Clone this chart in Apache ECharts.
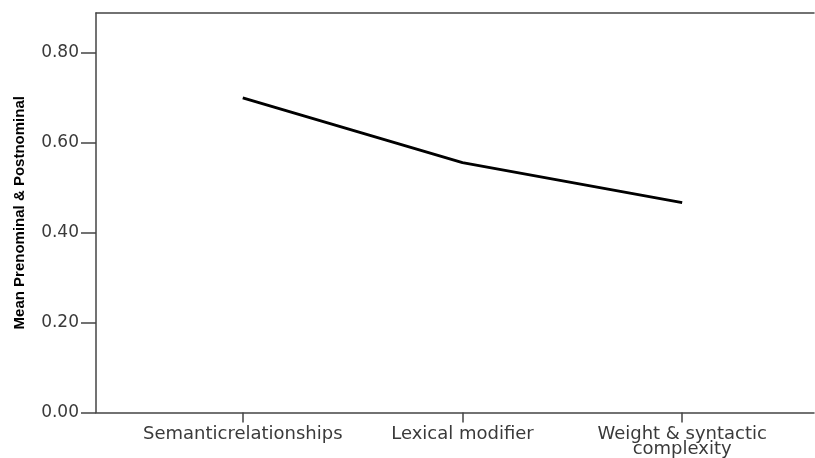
<!DOCTYPE html>
<html>
<head>
<meta charset="utf-8">
<script src="https://cdn.jsdelivr.net/npm/echarts@6/dist/echarts.min.js"></script>
<style>
  html, body { margin: 0; padding: 0; background: #fff; }
  #chart { width: 815px; height: 458px; }
</style>
</head>
<body>
<div id="chart"></div>
<script>
// categories on the x axis and the mean values
var categories = ['Semanticrelationships', 'Lexical modifier', 'Weight & syntactic\ncomplexity']
var meanValues = [0.700, 0.556, 0.467]
var yTicks = [0, 0.2, 0.4, 0.6, 0.8]

var points = meanValues.map(function (v, i) { return [i, v] })

var myChart = echarts.init(document.getElementById('chart'))
var option = {
  backgroundColor: '#fff',
  animation: false,
  grid: {
    left: 96,
    right: 1,
    top: 13,
    bottom: 45
  },
  xAxis: [
    {
      type: 'value',
      min: -0.668,
      max: 2.6,
      splitLine: { show: false },
      axisLine: { show: true, onZero: false, lineStyle: { color: '#444', width: 1.5 } },
      axisTick: {
        show: true,
        length: 10,
        customValues: [0, 1, 2],
        lineStyle: { color: '#444', width: 1.5 }
      },
      axisLabel: {
        customValues: [0, 1, 2],
        formatter: function (v) { return categories[Math.round(v)] },
        color: '#3a3a3a',
        fontFamily: 'DejaVu Sans, sans-serif',
        fontSize: 18,
        lineHeight: 15,
        margin: 14,
        verticalAlign: 'top'
      }
    },
    {
      type: 'value',
      position: 'top',
      min: -0.668,
      max: 2.6,
      splitLine: { show: false },
      axisLine: { show: true, onZero: false, lineStyle: { color: '#444', width: 1.5 } },
      axisTick: { show: false },
      axisLabel: { show: false }
    }
  ],
  yAxis: {
    type: 'value',
    min: 0,
    max: 0.889,
    name: 'Mean Prenominal & Postnominal',
    nameLocation: 'middle',
    nameGap: 69,
    nameTextStyle: {
      fontFamily: 'Liberation Sans Narrow, Arial Narrow, Liberation Sans, sans-serif',
      fontWeight: 'bold',
      fontSize: 15,
      color: '#000'
    },
    splitLine: { show: false },
    axisLine: { show: true, onZero: false, lineStyle: { color: '#444', width: 1.5 } },
    axisTick: {
      show: true,
      length: 15,
      customValues: yTicks,
      lineStyle: { color: '#444', width: 1.5 }
    },
    axisLabel: {
      customValues: yTicks,
      formatter: function (v) { return v.toFixed(2) },
      color: '#3a3a3a',
      fontFamily: 'DejaVu Sans, sans-serif',
      fontSize: 17,
      margin: 17
    }
  },
  series: [
    {
      type: 'line',
      data: points,
      symbol: 'none',
      lineStyle: { color: '#000', width: 3 }
    }
  ]
}
myChart.setOption(option)
</script>
</body>
</html>
